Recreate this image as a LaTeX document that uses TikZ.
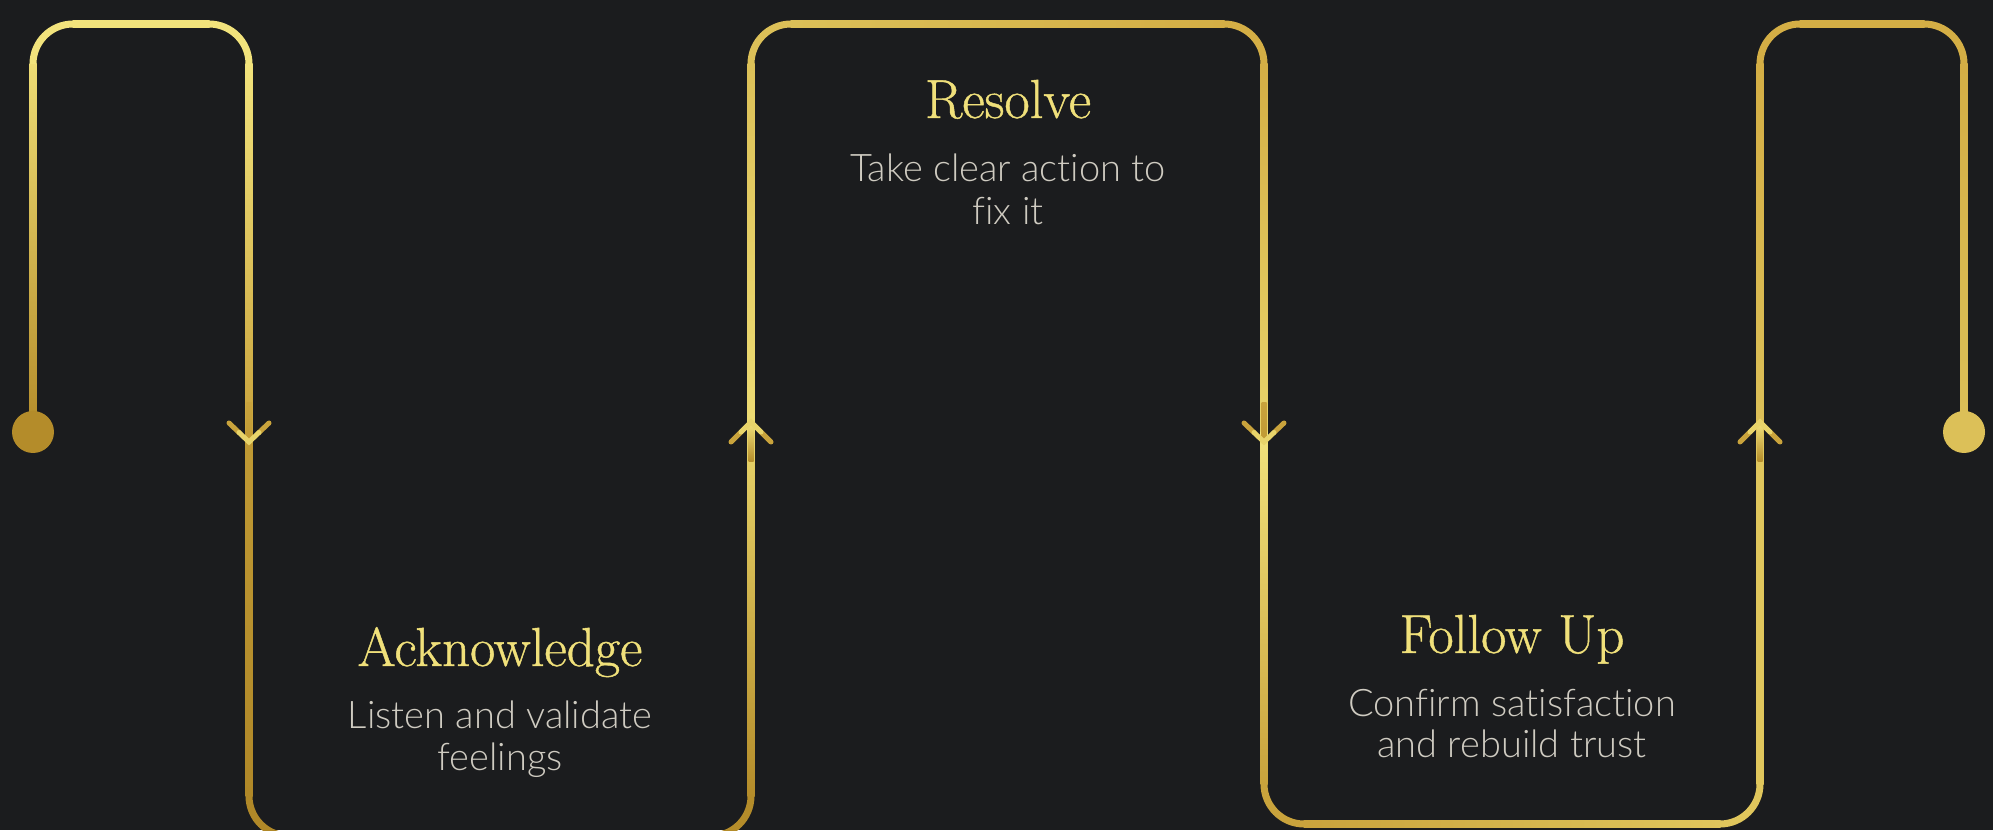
\documentclass[tikz,border=0pt]{standalone}
\usepackage{fontspec}
\newfontfamily\subfont{Lato Light}[Ligatures=NoCommon]
\newfontfamily\titlefont{Latin Modern Roman}[FakeBold=0.8]
\definecolor{bgc}{HTML}{1B1C1E}
\definecolor{titlec}{HTML}{F0E07A}
\definecolor{subc}{HTML}{CFCBC1}
\definecolor{gBright}{HTML}{F5EA80}
\definecolor{gLa}{HTML}{F2E37C}
\definecolor{gLb}{HTML}{EEDC74}
\definecolor{gLc}{HTML}{E8D46A}
\definecolor{gMa}{HTML}{E0C65C}
\definecolor{gMb}{HTML}{DCC058}
\definecolor{gMc}{HTML}{D4AE45}
\definecolor{gDa}{HTML}{C9A33C}
\definecolor{gDb}{HTML}{C09A34}
\definecolor{gDc}{HTML}{B48C2A}
\definecolor{gDd}{HTML}{B08828}
% vertical gradient strip: x, Ytop, Ybot, top colour, bottom colour
\newcommand\gvs[5]{\shade[top color=#4,bottom color=#5] ({#1-3.5},#2) rectangle ({#1+3.5},#3);}
% vertical strip with middle colour
\newcommand\gvsm[6]{\shade[top color=#4,middle color=#5,bottom color=#6] ({#1-3.5},#2) rectangle ({#1+3.5},#3);}
% horizontal strip: x1, x2, Y, left colour, right colour
\newcommand\ghs[5]{\shade[left color=#4,right color=#5] (#1,{#3-3.5}) rectangle (#2,{#3+3.5});}
\tikzset{
  arcline/.style={line width=7pt, line cap=butt},
  chev/.style={line width=5pt, line cap=round},
  titletext/.style={text=titlec, font=\titlefont\fontsize{55}{66}\selectfont, inner sep=0pt, anchor=base},
  subtext/.style={text=subc, font=\subfont\fontsize{38}{46}\selectfont, inner sep=0pt, anchor=base},
  enddot/.style={circle, inner sep=0pt, minimum size=42pt},
  downchev/.pic={
    \shade[top color=gDa, middle color=gLa, bottom color=gDb] (-2.5,29) rectangle (2.5,-10);
    \draw[chev, gDa] (-20,9) -- (-10,-0.5);
    \draw[chev, gDa] (20,9) -- (10,-0.5);
    \draw[chev, gLc] (-10,-0.5) -- (0,-10) -- (10,-0.5);
  },
  upchev/.pic={
    \shade[top color=gLa, bottom color=gDc] (-2.5,10) rectangle (2.5,-30);
    \draw[chev, gDa] (-20,-10) -- (-10,0);
    \draw[chev, gDa] (20,-10) -- (10,0);
    \draw[chev, gLc] (-10,0) -- (0,10) -- (10,0);
  }
}
\begin{document}
\begin{tikzpicture}[x=1pt,y=1pt]
\useasboundingbox (0,0) rectangle (1993,830);
\fill[bgc] (0,0) rectangle (1993,830);

% ---- first loop (start) ----
\gvs{33}{766.5}{398}{gLb}{gDc}
\draw[arcline, gLa] (33,766) arc[start angle=180, end angle=90, radius=40pt];
\ghs{72.5}{209.5}{806}{gLa}{gLa}
\draw[arcline, gLa] (209,806) arc[start angle=90, end angle=0, radius=40pt];
\gvsm{249}{766.5}{397.5}{gLa}{gMa}{gDa}

% ---- Acknowledge box ----
\gvs{249}{398}{33.5}{gDb}{gDd}
\draw[arcline, gDd] (249,34) arc[start angle=180, end angle=270, radius=40pt];
\ghs{288.5}{711.5}{-6}{gDd}{gDc}
\draw[arcline, gDc] (711,-6) arc[start angle=270, end angle=360, radius=40pt];
\gvsm{751}{398.5}{33.5}{gLc}{gDa}{gDc}

% ---- Resolve box ----
\gvsm{751}{766.5}{397.5}{gMb}{gBright}{gLb}
\draw[arcline, gMb] (751,766) arc[start angle=180, end angle=90, radius=40pt];
\ghs{790.5}{1224.5}{806}{gMb}{gMc}
\draw[arcline, gMc] (1224,806) arc[start angle=90, end angle=0, radius=40pt];
\gvsm{1264}{766.5}{397.5}{gMc}{gMb}{gLc}

% ---- Follow Up box ----
\gvsm{1264}{398.5}{45.5}{gLa}{gMa}{gDa}
\draw[arcline, gDa] (1264,46) arc[start angle=180, end angle=270, radius=40pt];
\ghs{1303.5}{1720.5}{6}{gDa}{gMa}
\draw[arcline, gMa] (1720,6) arc[start angle=270, end angle=360, radius=40pt];
\gvsm{1760}{398.5}{45.5}{gMa}{gLa}{gMa}

% ---- last loop (end) ----
\gvs{1760}{766.5}{397.5}{gMc}{gMb}
\draw[arcline, gMc] (1760,766) arc[start angle=180, end angle=90, radius=40pt];
\ghs{1799.5}{1924.5}{806}{gMc}{gMc}
\draw[arcline, gMc] (1924,806) arc[start angle=90, end angle=0, radius=40pt];
\gvs{1964}{766.5}{398}{gMc}{gMb}

% ---- end dots ----
\node[enddot, fill=gDc] (startdot) at (33,398) {};
\node[enddot, fill=gMb] (enddot) at (1964,398) {};

% ---- direction chevrons ----
\pic at (249,398) {downchev};
\pic at (751,398) {upchev};
\pic at (1264,398) {downchev};
\pic at (1760,398) {upchev};

% ---- texts ----
\node[titletext] (ackT) at (500,164) {Acknowledge};
\node[subtext] (ackS1) at (500,102) {Listen and validate};
\node[subtext] (ackS2) at (500,60) {feelings};
\node[titletext] (resT) at (1008,712) {Resolve};
\node[subtext] (resS1) at (1008,648) {Take clear action to};
\node[subtext] (resS2) at (1008,605) {fix it};
\node[titletext] (fuT) at (1512,177) {Follow Up};
\node[subtext] (fuS1) at (1512,114) {Confirm satisfaction};
\node[subtext] (fuS2) at (1512,73) {and rebuild trust};
\end{tikzpicture}
\end{document}
